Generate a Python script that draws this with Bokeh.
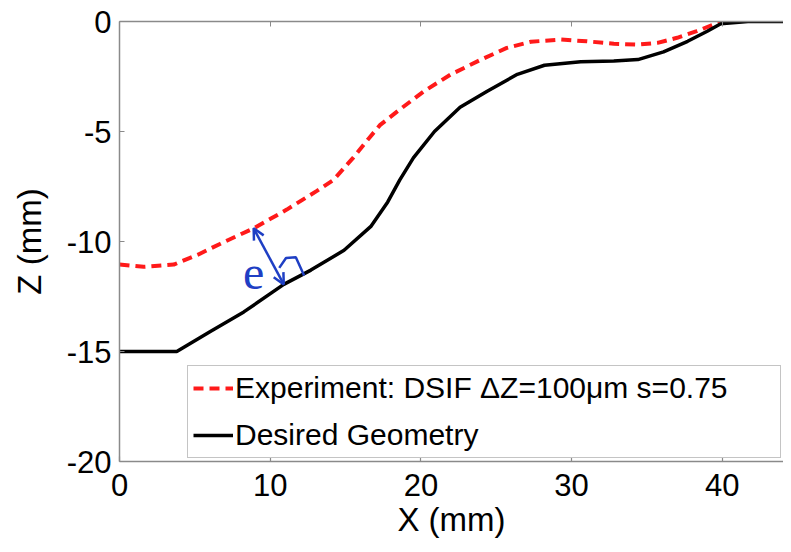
import numpy as np
from bokeh.plotting import figure
from bokeh.models import (Range1d, FixedTicker, LinearAxis, Legend, LegendItem,
                          Arrow, OpenHead, Label)
from bokeh.embed import file_html
from bokeh.resources import INLINE

# ---- data ----
x_desired = [0, 3.8, 6.0, 8.25, 10.9, 12.7, 14.9, 16.7, 17.8, 18.6, 19.5, 20.9, 22.6,
             24.4, 26.4, 28.2, 30.6, 32.8, 34.4, 36.1, 37.7, 39.0, 39.9, 41.7, 45]
z_desired = [-15.0, -15.0, -14.1, -13.2, -11.95, -11.3, -10.4, -9.3, -8.2, -7.2, -6.2,
             -5.0, -3.9, -3.17, -2.4, -1.99, -1.83, -1.8, -1.73, -1.38, -0.9, -0.44,
             -0.1, 0.0, 0.0]

x_exp = [0, 1.6, 3.6, 5.2, 6.7, 8.9, 11.1, 13.1, 14.2, 15.5, 16.5, 17.3, 18.6, 20.2,
         22.0, 24.0, 25.7, 27.3, 29.3, 31.0, 32.8, 34.4, 35.7, 37.0, 38.3, 39.7, 40.2]
z_exp = [-11.05, -11.15, -11.05, -10.6, -10.1, -9.4, -8.55, -7.7, -7.2, -6.2, -5.35,
         -4.7, -4.0, -3.17, -2.4, -1.73, -1.2, -0.92, -0.82, -0.9, -1.01, -1.05, -0.97,
         -0.74, -0.44, -0.06, 0.0]

x_ticks = [0, 10, 20, 30, 40]
z_ticks = [0, -5, -10, -15, -20]
z_tick_labels = ["0", "-5", "-10", "-15", "-20"]

label_exp = "Experiment: DSIF \u0394Z=100\u03bcm s=0.75"
label_des = "Desired Geometry"

# annotation anchor points (X positions on each curve)
e_start_x = 8.9
e_end_x = 10.9

FONT = "Liberation Sans"
BLUE = "#1f3fc4"
AXC = "#8a8a8a"

p = figure(frame_width=664, frame_height=440, output_backend="svg",
           toolbar_location=None, x_range=Range1d(0, 44.06), y_range=Range1d(-20, 0),
           min_border_left=119, min_border_right=0, min_border_top=21,
           min_border_bottom=60)
p.outline_line_color = None
p.xgrid.visible = False
p.ygrid.visible = False
p.background_fill_color = "white"
p.border_fill_color = "white"

for ax in (p.xaxis[0], p.yaxis[0]):
    ax.axis_line_color = AXC
    ax.axis_line_width = 1.5
    ax.major_tick_line_color = AXC
    ax.major_tick_line_width = 1.2
    ax.major_tick_in = 5
    ax.major_tick_out = 0
    ax.minor_tick_line_color = None
    ax.major_label_text_font = FONT
    ax.major_label_text_font_size = "31px"
    ax.major_label_text_color = "black"
    ax.axis_label_text_font = FONT
    ax.axis_label_text_font_size = "33px"
    ax.axis_label_text_font_style = "normal"
    ax.axis_label_text_color = "black"

p.xaxis.ticker = FixedTicker(ticks=x_ticks)
p.yaxis.ticker = FixedTicker(ticks=z_ticks)
p.yaxis.major_label_overrides = {t: s for t, s in zip(z_ticks, z_tick_labels)}
p.xaxis.axis_label = "X (mm)"
p.yaxis.axis_label = "Z (mm)"
p.xaxis.major_label_standoff = 12
p.xaxis.axis_label_standoff = 2
p.yaxis.major_label_standoff = 8
p.yaxis.axis_label_standoff = 16

top = LinearAxis(ticker=FixedTicker(ticks=x_ticks), major_label_text_font_size="0px",
                 axis_line_color=AXC, axis_line_width=1.5, major_tick_line_color=AXC,
                 major_tick_in=5, major_tick_out=0, minor_tick_line_color=None,
                 major_label_text_color=None)
p.add_layout(top, "above")

r_exp = p.line(x_exp, z_exp, line_color="#ff1a1a", line_width=4, line_dash="10 6")
r_des = p.line(x_desired, z_desired, line_color="black", line_width=3.5)

legend = Legend(items=[LegendItem(label=label_exp, renderers=[r_exp]),
                       LegendItem(label=label_des, renderers=[r_des])],
                location=(68, 3), orientation="vertical",
                label_text_font=FONT, label_text_font_size="30px",
                label_text_color="black",
                label_standoff=2, glyph_width=40, glyph_height=34, label_height=34,
                label_width=540,
                spacing=13, padding=5, margin=0,
                border_line_color=AXC, border_line_width=1.2,
                background_fill_color="white", background_fill_alpha=1.0)
p.add_layout(legend, "center")

# annotation: error arrow between curves
sx, sy = e_start_x, float(np.interp(e_start_x, x_exp, z_exp))
ex, ey = e_end_x, float(np.interp(e_end_x, x_desired, z_desired))
p.add_layout(Arrow(x_start=sx, y_start=sy, x_end=ex, y_end=ey,
                   line_color=BLUE, line_width=2.5,
                   start=OpenHead(size=11, line_color=BLUE, line_width=2.5),
                   end=OpenHead(size=11, line_color=BLUE, line_width=2.5)))
mark_x = [10.6, 11.05, 11.7, 12.25]
mark_y = [-11.2, -10.75, -10.72, -11.55]
p.line(mark_x, mark_y, line_color=BLUE, line_width=2.5)
p.add_layout(Label(x=(sx + ex) / 2 - 1.0, y=(sy + ey) / 2 - 0.75, text="e",
                   text_font="Liberation Serif", text_font_size="48px",
                   text_color=BLUE, text_align="center", text_baseline="middle"))

open("out.html", "w").write(file_html(p, INLINE))
